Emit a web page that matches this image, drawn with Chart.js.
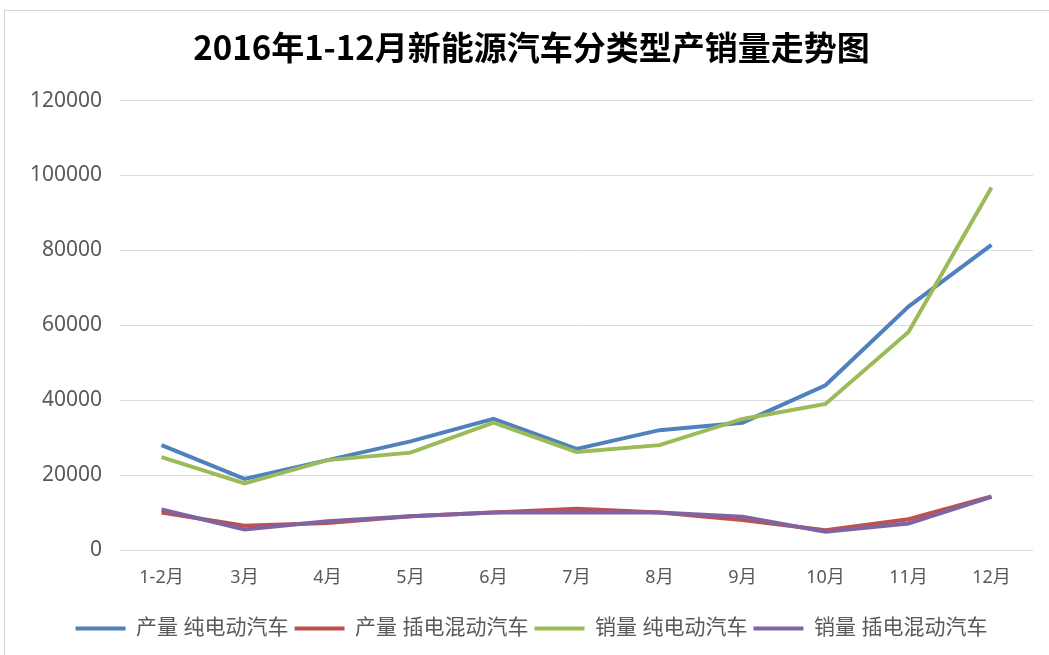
<!DOCTYPE html>
<html>
<head>
<meta charset="utf-8">
<script src="https://cdn.jsdelivr.net/npm/chart.js@4/dist/chart.umd.min.js"></script>
<style>
  html, body { margin: 0; padding: 0; background: #fff; }
  #wrap { position: relative; width: 1049px; height: 655px; overflow: hidden; }
  #frame { position: absolute; left: 4px; top: 10px; width: 1100px; height: 700px; border: 1px solid #d4d4d4; pointer-events: none; }
</style>
</head>
<body>
<div id="wrap">
  <canvas id="trend-chart" width="1049" height="655"></canvas>
  <div id="frame"></div>
</div>
<script>
// months on the x axis
const months = ['1-2月', '3月', '4月', '5月', '6月', '7月', '8月', '9月', '10月', '11月', '12月'];

// series (vehicles)
const prodBEV  = [28000, 19000, 24000, 29000, 35000, 27000, 32000, 34000, 44000, 65000, 81500];
const prodPHEV = [10000, 6500, 7200, 9000, 10000, 11000, 10000, 8000, 5300, 8200, 14300];
const salesBEV = [24800, 17800, 24000, 26000, 34000, 26200, 28000, 35000, 39000, 58200, 96800];
const salesPHEV = [10800, 5500, 7700, 9000, 10000, 10000, 10000, 8900, 4900, 7100, 14200];

const seriesNames = ['产量 纯电动汽车', '产量 插电混动汽车', '销量 纯电动汽车', '销量 插电混动汽车'];
const yTicks = [0, 20000, 40000, 60000, 80000, 100000, 120000];

const colors = ['#4F81BD', '#C0504D', '#9BBB59', '#8064A2'];
const seriesValues = [prodBEV, prodPHEV, salesBEV, salesPHEV];

const textColor = '#595959';
const fontFamily = '"Noto Sans", "Noto Sans CJK SC", sans-serif';

const datasets = seriesValues.map(function(vals, i) {
  return {
    label: seriesNames[i],
    data: vals,
    borderColor: colors[i],
    backgroundColor: colors[i],
    borderWidth: 4,
    pointRadius: 0,
    tension: 0,
    order: 4 - i // later series painted on top, like the original
  };
});

const ctx = document.getElementById('trend-chart').getContext('2d');
const myChart = new Chart(ctx, {
  type: 'line',
  data: { labels: months, datasets: datasets },
  options: {
    responsive: false,
    animation: false,
    layout: { padding: { left: 30, right: 16, top: 0, bottom: 6 } },
    plugins: {
      title: {
        display: true,
        text: '2016年1-12月新能源汽车分类型产销量走势图',
        color: '#000',
        font: { family: '"Noto Sans CJK SC", sans-serif', size: 33, weight: 'bold' },
        padding: { top: 28, bottom: 33 }
      },
      legend: {
        position: 'bottom',
        labels: {
          usePointStyle: true,
          pointStyle: 'line',
          pointStyleWidth: 50,
          padding: 6,
          color: textColor,
          font: { family: fontFamily, size: 21 },
          sort: function(a, b) { return a.datasetIndex - b.datasetIndex; }
        }
      },
      tooltip: { enabled: false }
    },
    scales: {
      x: {
        offset: true,
        grid: { display: false, drawTicks: false },
        border: { display: false },
        ticks: { color: textColor, padding: 17, font: { family: fontFamily, size: 18 } },
        afterFit: function(scale) { scale.height = 62; }
      },
      y: {
        min: 0,
        max: 120000,
        afterBuildTicks: function(scale) { scale.ticks = yTicks.map(v => ({ value: v })); },
        grid: { color: '#d9d9d9', lineWidth: 1, drawTicks: false },
        border: { display: false },
        ticks: {
          color: textColor,
          padding: 18,
          font: { family: fontFamily, size: 21 },
          callback: function(v) { return String(v); }
        },
        afterFit: function(scale) { scale.width = 90; }
      }
    }
  }
});
</script>
</body>
</html>
